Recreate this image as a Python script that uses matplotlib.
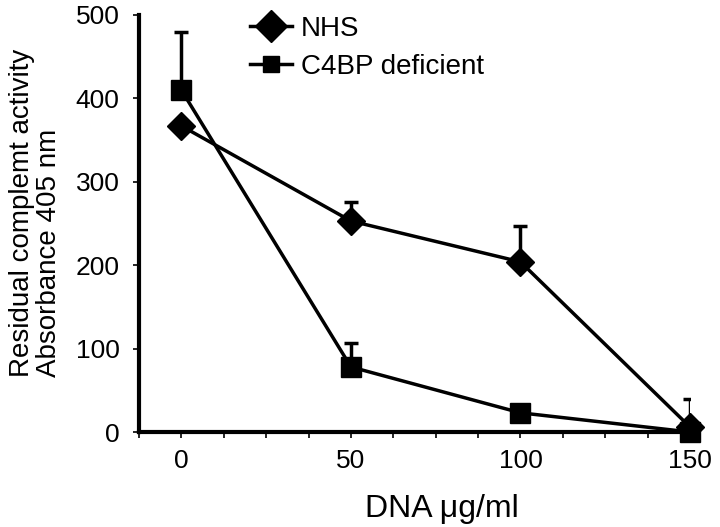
import matplotlib
matplotlib.use("Agg")
import matplotlib.pyplot as plt
import numpy as np
from matplotlib.ticker import MultipleLocator, FixedLocator

plt.rcParams['font.family'] = ['Liberation Sans', 'DejaVu Sans']

dna = [0, 50, 100, 150]
nhs = [367, 253, 204, 6]
nhs_err = [0, 23, 43, 33]
c4bp = [410, 78, 23, 0]
c4bp_err = [70, 29, 0, 0]
x_ticks = [0, 50, 100, 150]
y_ticks = [0, 100, 200, 300, 400, 500]

W, H = 720, 527
fig = plt.figure(figsize=(7.2, 5.27), dpi=100)
ax = fig.add_axes([139 / W, 1 - 432 / H, (690 - 139) / W, (432 - 15) / H])

lw = 2.5
ax.errorbar(dna, nhs, yerr=[np.zeros(len(nhs)), nhs_err], fmt='none',
            ecolor='black', elinewidth=lw, capsize=5, capthick=lw, zorder=2)
ax.errorbar(dna, c4bp, yerr=[np.zeros(len(c4bp)), c4bp_err], fmt='none',
            ecolor='black', elinewidth=lw, capsize=5, capthick=lw, zorder=2)

ax.plot(dna, nhs, color='black', lw=lw, marker='D', markersize=14,
        label='NHS', zorder=3, clip_on=False)
ax.plot(dna, c4bp, color='black', lw=lw, marker='s', markersize=14,
        label='C4BP deficient', zorder=3, clip_on=False)

ax.set_xlim(-12.5, 150)
ax.set_ylim(0, 500)
ax.xaxis.set_major_locator(FixedLocator(x_ticks))
ax.xaxis.set_minor_locator(MultipleLocator(12.5))
ax.set_yticks(y_ticks)

for s in ['top', 'right']:
    ax.spines[s].set_visible(False)
for s in ['left', 'bottom']:
    ax.spines[s].set_linewidth(3)

ax.tick_params(axis='both', which='both', direction='out', length=4, width=1.2)
ax.tick_params(axis='x', which='major', labelsize=19, pad=8)
ax.tick_params(axis='y', which='major', labelsize=19, pad=10)

ax.set_xlabel('DNA μg/ml', fontsize=23, labelpad=15)
ax.xaxis.label.set_x((442 - 139) / (690 - 139))

fig.text(62 / W, 1 - 377 / H, 'Residual complemt activity\nAbsorbance 405 nm',
         rotation=90, ha='right', va='bottom', multialignment='left',
         fontsize=20, linespacing=1.05)

leg = ax.legend(loc='upper left', bbox_to_anchor=(250 / W, 1 - 16 / H),
                bbox_transform=fig.transFigure, frameon=False,
                fontsize=20, handlelength=1.5, handletextpad=0.33,
                labelspacing=0.42, borderpad=0, borderaxespad=0)
leg.legend_handles[0].set_markersize(16)
leg.legend_handles[1].set_markersize(12)

fig.savefig('out.png', dpi=100)
